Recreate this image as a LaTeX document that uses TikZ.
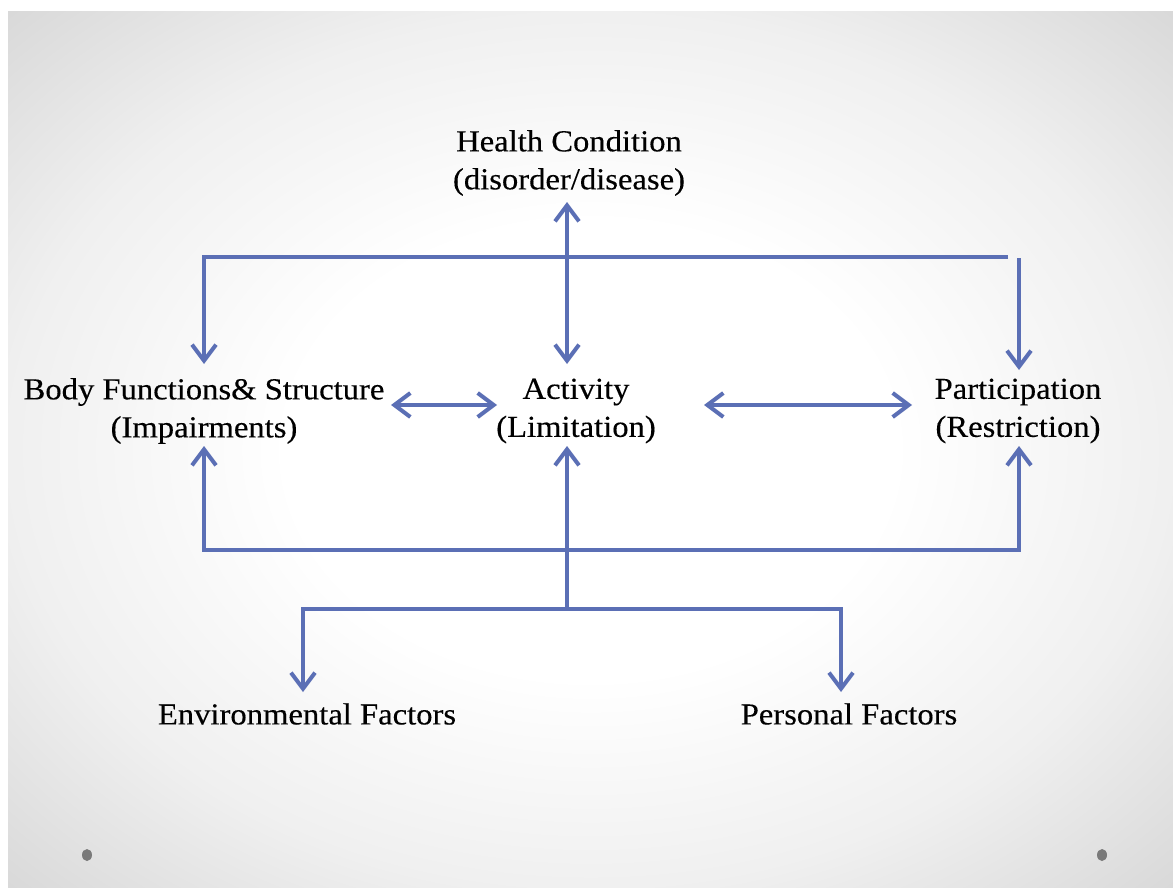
\documentclass[tikz,border=0pt]{standalone}
\usepackage{fontspec}
\setmainfont[FakeStretch=1.07,FakeBold=0.3]{Liberation Serif}
\usetikzlibrary{arrows.meta}
\definecolor{arrowblue}{HTML}{5B6FB5}
\definecolor{dotgray}{HTML}{7A7A7A}
\pgfdeclareradialshading{bgshade}{\pgfpoint{0bp}{0bp}}{color(0bp)=(white); color(13bp)=(white); color(25bp)=(black!6); color(35.4bp)=(black!15); color(50bp)=(black!15)}
\tikzset{
  lbl/.style={font=\fontsize{30.5}{38}\selectfont, align=center, inner sep=0pt, text=black},
  conn/.style={draw=arrowblue, line width=4pt},
  tip/.style={-{Straight Barb[length=16pt,width=24pt,line width=4pt]}},
  tips/.style={{Straight Barb[length=16pt,width=24pt,line width=4pt]}-{Straight Barb[length=16pt,width=24pt,line width=4pt]}}
}
\begin{document}
\begin{tikzpicture}[x=1pt,y=-1pt]
\useasboundingbox (0,0) rectangle (1173,888);
\fill[white] (0,0) rectangle (1173,888);
\shade[shading=bgshade] (8,12) rectangle (1173,888);
\fill[dotgray] (87,855) ellipse (5 and 6);
\fill[dotgray] (1102,855) ellipse (5 and 6);

\node[lbl] (hc) at (569,163) {Health Condition\\(disorder/disease)};
\node[lbl] (bf) at (204,411) {Body Functions\& Structure\\(Impairments)};
\node[lbl] (ac) at (576,411) {Activity\\(Limitation)};
\node[lbl] (pa) at (1018,411) {Participation\\(Restriction)};
\node[lbl] (ef) at (307,714) {Environmental Factors};
\node[lbl] (pf) at (849,714) {Personal Factors};

\coordinate (hcb) at (567,202);
\coordinate (acT) at (567,364);
\coordinate (bfT) at (204,364);
\coordinate (paT) at (1019,370);
\coordinate (tl) at (204,257);
\coordinate (tr) at (1008,257);
\coordinate (tr2) at (1019,258);
\coordinate (bfB) at (204,446);
\coordinate (acB) at (567,446);
\coordinate (paB) at (1019,446);
\coordinate (bl) at (204,550);
\coordinate (br) at (1019,550);
\coordinate (bm) at (567,550);
\coordinate (fm) at (567,609);
\coordinate (fl) at (303,609);
\coordinate (fr) at (841,609);
\coordinate (efT) at (303,692);
\coordinate (pfT) at (841,692);
\coordinate (a1) at (391,405);
\coordinate (a2) at (497,405);
\coordinate (a3) at (704,405);
\coordinate (a4) at (912,405);

\draw[conn,tips] (hcb) -- (acT);
\draw[conn,tip] (tr) -- (tl) -- (bfT);
\draw[conn,tip] (tr2) -- (paT);
\draw[conn,tips] (a1) -- (a2);
\draw[conn,tips] (a3) -- (a4);
\draw[conn,tips] (bfB) -- (bl) -- (br) -- (paB);
\draw[conn,tip] (fm) -- (acB);
\draw[conn,tip] (fm) -- (fl) -- (efT);
\draw[conn,tip] (fm) -- (fr) -- (pfT);
\end{tikzpicture}
\end{document}
